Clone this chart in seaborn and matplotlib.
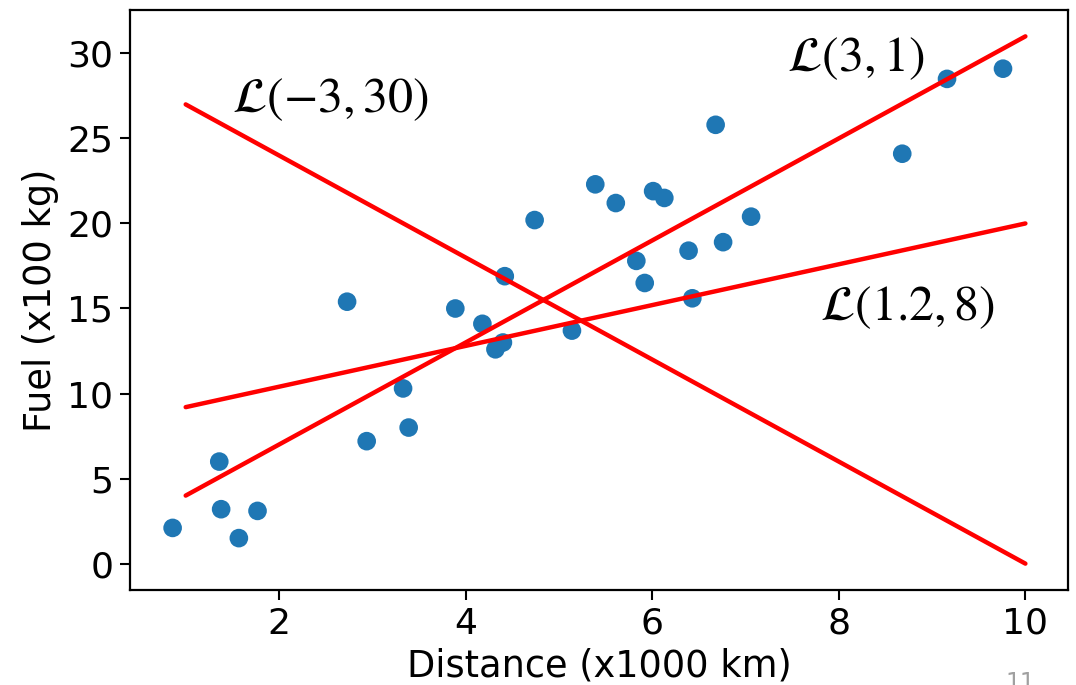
import matplotlib
matplotlib.use("Agg")
import matplotlib.pyplot as plt
import seaborn as sns
import pandas as pd
import numpy as np

# Data
distance = [0.86, 1.36, 1.38, 1.57, 1.77, 2.73, 2.94, 3.33, 3.39, 3.89,
            4.18, 4.32, 4.40, 4.42, 4.74, 5.14, 5.39, 5.61, 5.83, 5.92,
            6.01, 6.13, 6.39, 6.43, 6.68, 6.76, 7.06, 8.68, 9.16, 9.76]
fuel = [2.1, 6.0, 3.2, 1.5, 3.1, 15.4, 7.2, 10.3, 8.0, 15.0,
        14.1, 12.6, 13.0, 16.9, 20.2, 13.7, 22.3, 21.2, 17.8, 16.5,
        21.9, 21.5, 18.4, 15.6, 25.8, 18.9, 20.4, 24.1, 28.5, 29.1]

line_x = [1, 10]
slopes = [3, 1.2, -3]
intercepts = [1, 8, 30]
line_labels = [r"$\mathcal{L}(3,1)$", r"$\mathcal{L}(1.2,8)$", r"$\mathcal{L}(-3,30)$"]
label_pos = [(7.45, 29.7), (7.8, 15.1), (1.5, 27.3)]

x_ticks = [2, 4, 6, 8, 10]
y_ticks = [0, 5, 10, 15, 20, 25, 30]

sns.set_theme(style="ticks")
plt.rcParams["font.family"] = ["DejaVu Sans"]
plt.rcParams["mathtext.fontset"] = "stix"

fig = plt.figure(figsize=(10.76, 6.85), dpi=100)
ax = fig.add_axes([0.1208, 0.1387, 0.8718, 0.8467])

df = pd.DataFrame({"Distance": distance, "Fuel": fuel})
sns.scatterplot(data=df, x="Distance", y="Fuel", ax=ax, s=180,
                color="#1f77b4", edgecolor="none", zorder=3)

for m, b in zip(slopes, intercepts):
    ys = [m * xv + b for xv in line_x]
    ldf = pd.DataFrame({"x": line_x, "y": ys})
    sns.lineplot(data=ldf, x="x", y="y", ax=ax, color="red", linewidth=3.2, zorder=4)

for lab, (tx, ty) in zip(line_labels, label_pos):
    ax.text(tx, ty, lab, fontsize=36, va="center", ha="left", color="black")

ax.set_xticks(x_ticks)
ax.set_yticks(y_ticks)
ax.tick_params(labelsize=26, length=7, width=1.5, color="black", labelcolor="black", pad=5)
for sp in ax.spines.values():
    sp.set_linewidth(1.6)
    sp.set_color("black")
    sp.set_visible(True)

ax.set_xlabel("Distance (x1000 km)", fontsize=26.5, color="black", labelpad=5)
ax.set_ylabel("Fuel (x100 kg)", fontsize=26.5, color="black", labelpad=6)

fig.text(0.934, -0.014, "11", fontsize=17, color="#a0a0a0", ha="left", va="bottom")

fig.savefig("out.png", dpi=100)
